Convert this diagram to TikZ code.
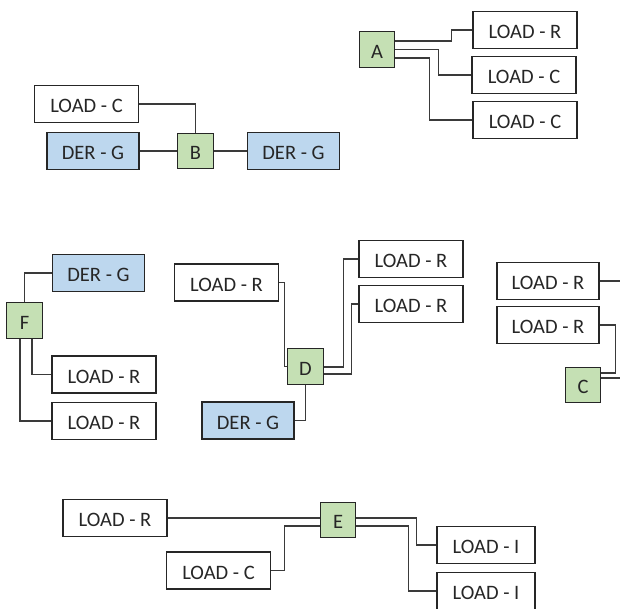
\documentclass[tikz,border=0pt]{standalone}
\usepackage{fontspec}
\setmainfont{Carlito}
\usetikzlibrary{calc}
\definecolor{busgreen}{HTML}{C5E0B4}
\definecolor{derblue}{HTML}{BDD7EE}
\definecolor{edge}{HTML}{262626}
\definecolor{wire}{HTML}{3a3a3a}
\tikzset{
  base/.style={draw=edge, line width=1.2pt, inner sep=0pt, text=edge,
    text height=17pt, text depth=0pt,
    font=\fontsize{20.5}{24}\selectfont},
  load/.style={base, fill=white, minimum width=104pt, minimum height=37pt},
  der/.style={base, fill=derblue, minimum width=92pt, minimum height=37pt},
  bus/.style={base, fill=busgreen, minimum width=35.5pt, minimum height=35.5pt},
  wire/.style={draw=wire, line width=1.1pt}
}
\begin{document}
\begin{tikzpicture}[x=1pt,y=-1pt]
\useasboundingbox (0,0) rectangle (620,608);
\clip (0,0) rectangle (620,608);

% --- bus A ---
\node[bus]  (A)   at (377,49.5) {A};
\node[load] (AR1) at (525,30)   {LOAD - R};
\node[load] (AC1) at (524,75)   {LOAD - C};
\node[load] (AC2) at (525,120)  {LOAD - C};
\draw[wire] ($(A.east)+(0,-8.5)$) -| ($(AR1.west)+(-21,0)$) -- (AR1.west);
\draw[wire] (A.east) -| ($(AC1.west)+(-33,0)$) -- (AC1.west);
\draw[wire] ($(A.east)+(0,8.5)$) -| ($(AC2.west)+(-43,0)$) -- (AC2.west);

% --- bus B ---
\node[load] (BC)  at (86.5,104) {LOAD - C};
\node[der]  (BG1) at (93,151)   {DER - G};
\node[bus]  (B)   at (195.5,151) {B};
\node[der]  (BG2) at (293.5,151) {DER - G};
\draw[wire] (BC.east) -| (B.north);
\draw[wire] (BG1.east) -- (B.west);
\draw[wire] (B.east) -- (BG2.west);

% --- bus F ---
\node[der]  (FG)  at (98.5,273) {DER - G};
\node[bus]  (F)   at (24.5,320.5) {F};
\node[load] (FR1) at (104,374.5) {LOAD - R};
\node[load] (FR2) at (104,421)  {LOAD - R};
\draw[wire] (F.north) |- (FG.west);
\draw[wire] ($(F.south)+(7.5,0)$) |- (FR1.west);
\draw[wire] ($(F.south)+(-4.5,0)$) |- (FR2.west);

% --- bus D ---
\node[load] (DL)  at (226.5,282.5) {LOAD - R};
\node[load] (DR1) at (411,259)  {LOAD - R};
\node[load] (DR2) at (411,304)  {LOAD - R};
\node[bus]  (D)   at (305.5,366.5) {D};
\node[der]  (DG)  at (248,420.5) {DER - G};
\draw[wire] (DL.east) -- ++(5,0) |- (D.west);
\draw[wire] ($(D.east)+(0,0.5)$) -| ($(DR1.west)+(-15,0)$) -- (DR1.west);
\draw[wire] ($(D.east)+(0,7.5)$) -| ($(DR2.west)+(-7,0)$) -- (DR2.west);
\draw[wire] (D.south) |- (DG.east);

% --- bus C ---
\node[load, minimum width=102pt] (CR1) at (548,281) {LOAD - R};
\node[load, minimum width=102pt] (CR2) at (548,325) {LOAD - R};
\node[bus]  (C)   at (583,385) {C};
\coordinate (CR1out) at (624,281);
\coordinate (Cout)   at (624,378);
\draw[wire] (CR1.east) -- (CR1out);
\draw[wire] (CR2.east) -| ($(C.east)+(14,-12)$) -- ($(C.east)+(0,-12)$);
\draw[wire] ($(C.east)+(0,-7)$) -- (Cout);

% --- bus E ---
\node[load] (ER)  at (115,518)   {LOAD - R};
\node[bus]  (E)   at (338,520)   {E};
\node[load] (EC)  at (218.5,570.5) {LOAD - C};
\node[load, minimum width=98pt] (EI1) at (486,545) {LOAD - I};
\node[load, minimum width=98pt] (EI2) at (486,591) {LOAD - I};
\draw[wire] (ER.east) -- (ER.east -| E.west);
\draw[wire] (EC.east) -- ++(13,0) |- ($(E.west)+(0,6)$);
\draw[wire] ($(E.east)+(0,-2)$) -| ($(EI1.west)+(-20,0)$) -- (EI1.west);
\draw[wire] ($(E.east)+(0,6)$) -| ($(EI2.west)+(-28,0)$) -- (EI2.west);
\end{tikzpicture}
\end{document}
